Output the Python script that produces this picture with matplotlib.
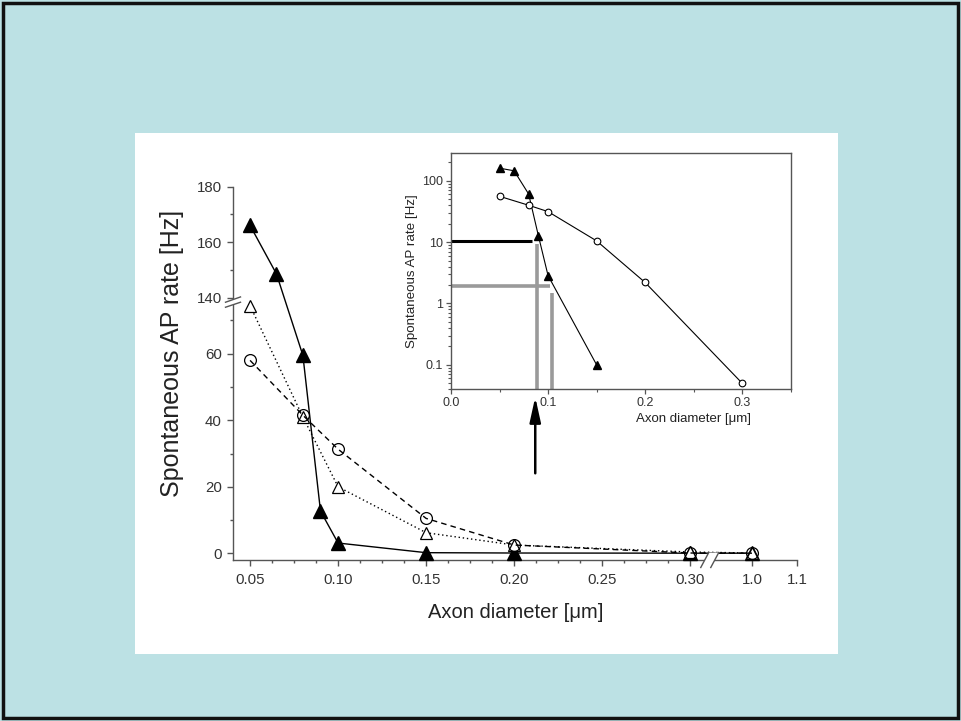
import numpy as np
import matplotlib
matplotlib.use("Agg")
import matplotlib.pyplot as plt
from matplotlib.patches import Rectangle, Polygon
from matplotlib.lines import Line2D

plt.rcParams['font.family'] = ['Liberation Sans', 'DejaVu Sans']

# main panel data
x_filled = [0.05, 0.065, 0.08, 0.09, 0.10, 0.15, 0.20, 0.30, 1.0]
y_filled = [166, 148.5, 59.5, 12.7, 3.1, 0.2, 0.1, 0.05, 0.05]
x_open_tri = [0.05, 0.08, 0.10, 0.15, 0.20, 0.30, 1.0]
y_open_tri = [137, 41, 20, 6.2, 2.5, 0.4, 0.1]
x_circ = [0.05, 0.08, 0.10, 0.15, 0.20, 0.30, 1.0]
y_circ = [58, 41.5, 31.3, 10.5, 2.5, 0.1, 0.05]

x_ticks = [0.05, 0.10, 0.15, 0.20, 0.25, 0.30, 1.0, 1.1]
x_tick_labels = ['0.05', '0.10', '0.15', '0.20', '0.25', '0.30', '1.0', '1.1']
y_ticks = [0, 20, 40, 60, 140, 160, 180]
y_minor = [10, 30, 50, 70, 150, 170]

# inset data (log scale)
ix_tri = [0.05, 0.065, 0.08, 0.09, 0.10, 0.15]
iy_tri = [161, 146, 61, 12.8, 2.85, 0.1]
ix_circ = [0.05, 0.08, 0.10, 0.15, 0.20, 0.30]
iy_circ = [56, 40, 31.5, 10.5, 2.2, 0.05]

# guide lines in the inset
black_h = ([0.0, 0.083], [10.5, 10.5])
gray_v1 = ([0.0885, 0.0885], [9.4, 0.01])
gray_h = ([0.0, 0.102], [1.9, 1.9])
gray_v2 = ([0.1045, 0.1045], [1.5, 0.01])
arrow_x = 0.0868

W, H = 961, 721
fig = plt.figure(figsize=(W / 100, H / 100), dpi=100)
fig.patch.set_facecolor('#bce1e4')


def fr(x0, y0, x1, y1):
    # pixel box (top-left origin) -> figure fraction rect
    return [x0 / W, 1 - y1 / H, (x1 - x0) / W, (y1 - y0) / H]


fig.add_artist(Rectangle((3 / W, 3 / H), (W - 6) / W, (H - 6) / H,
                         transform=fig.transFigure, facecolor='none',
                         edgecolor='#111111', lw=2.5, zorder=-2))
fig.add_artist(Rectangle((135 / W, 1 - 653.7 / H), 702.7 / W, 520.7 / H,
                         transform=fig.transFigure, facecolor='white',
                         edgecolor='none', zorder=-1))


# broken axis scales
def xf(x):
    x = np.asarray(x, dtype=float)
    return np.where(x < 0.6, np.minimum(x, 0.3114), 0.3351 + (x - 1.0) * 0.2557)


def xi(u):
    u = np.asarray(u, dtype=float)
    return np.where(u < 0.3114, u, 1.0 + (u - 0.3351) / 0.2557)


def yf(y):
    y = np.asarray(y, dtype=float)
    return np.where(y < 100, np.minimum(y, 74.4), 74.4 + (y - 137) * 0.8326)


def yi(v):
    v = np.asarray(v, dtype=float)
    return np.where(v < 74.4, v, 137 + (v - 74.4) / 0.8326)


spine_c = '#555555'
text_c = '#333333'

ax = fig.add_axes(fr(233, 186.7, 797, 560))
ax.patch.set_alpha(0)
ax.set_xscale('function', functions=(xf, xi))
ax.set_yscale('function', functions=(yf, yi))
ax.set_xlim(0.0403, 1.1)
ax.set_ylim(-2.0, 180)
for s in ['top', 'right']:
    ax.spines[s].set_visible(False)
for s in ['left', 'bottom']:
    ax.spines[s].set_color(spine_c)
    ax.spines[s].set_linewidth(1.0)

ax.set_xticks(x_ticks)
ax.set_xticklabels(x_tick_labels)
ax.set_xticks(list(np.arange(0.0625, 0.29, 0.0125)), minor=True)
ax.set_yticks(y_ticks)
ax.set_yticklabels([str(v) for v in y_ticks])
ax.set_yticks(y_minor, minor=True)
ax.tick_params(which='both', direction='out', colors=spine_c, labelcolor=text_c,
               labelsize=10.8)
ax.tick_params(which='major', length=4.5, width=1)
ax.tick_params(which='minor', length=2.5, width=1)
ax.tick_params(axis='x', pad=5)

ax.plot(x_filled, y_filled, '-', color='black', lw=1.0, marker='^', ms=10,
        mfc='black', mec='black', zorder=3, clip_on=False)
ax.plot(x_open_tri, y_open_tri, linestyle=(0, (1, 2)), color='black', lw=1.0,
        marker='^', ms=8, mfc='white', mec='black', mew=0.9, zorder=4, clip_on=False)
ax.plot(x_circ, y_circ, linestyle=(0, (4, 3)), color='black', lw=1.0,
        marker='o', ms=8.5, mfc='none', mec='black', mew=0.9, zorder=5, clip_on=False)

fig.canvas.draw()
to_fig = fig.transFigure.inverted()


def break_mark(px, py, l1, l2):
    pts = [(px + a, py + b) for a, b in (l1[0], l1[1], l2[1], l2[0])]
    pts = [to_fig.transform(p) for p in pts]
    fig.add_artist(Polygon(pts, closed=True, transform=fig.transFigure,
                           facecolor='white', edgecolor='none', zorder=10))
    for a, b in (l1, l2):
        p0 = to_fig.transform((px + a[0], py + a[1]))
        p1 = to_fig.transform((px + b[0], py + b[1]))
        fig.add_artist(Line2D([p0[0], p1[0]], [p0[1], p1[1]], transform=fig.transFigure,
                              color=spine_c, lw=1.0, zorder=11))


# x axis break
bx, by = ax.transData.transform((0.3125, -2.0))
break_mark(bx, by, ((-9.5, -7.5), (-1.5, 7.5)), ((0.5, -7.5), (8.5, 7.5)))
# y axis break
cx, cy = ax.transData.transform((0.0403, 138.4))
break_mark(cx, cy, ((-7.5, -0.3), (7.5, 5.0)), ((-7.5, -5.3), (7.5, -0.3)))

fig.text(172 / W, 1 - 353 / H, 'Spontaneous AP rate [Hz]', rotation=90,
         ha='center', va='center', fontsize=18, color='#222222')
fig.text(516 / W, 1 - 612 / H, 'Axon diameter [\u03bcm]', ha='center', va='center',
         fontsize=14.5, color='#222222')

# inset
ins = fig.add_axes(fr(451, 152.7, 790.7, 389.3))
ins.set_yscale('log')
ins.set_xlim(0, 0.35)
ins.set_ylim(0.0398, 288)
for s in ins.spines.values():
    s.set_color(spine_c)
    s.set_linewidth(1.0)
ins.set_xticks([0.0, 0.1, 0.2, 0.3])
ins.set_xticklabels(['0.0', '0.1', '0.2', '0.3'])
ins.set_xticks([0.05, 0.15, 0.25, 0.35], minor=True)
ins.set_yticks([0.1, 1, 10, 100])
ins.set_yticklabels(['0.1', '1', '10', '100'])
ins.tick_params(which='both', direction='out', colors=spine_c, labelcolor=text_c,
                labelsize=9, top=False, right=False)
ins.tick_params(which='major', length=3.5, width=0.9, pad=2)
ins.tick_params(which='minor', length=2, width=0.8)

ins.plot(*black_h, color='black', lw=2.2, solid_capstyle='butt', zorder=2)
ins.plot(*gray_v1, color='#9a9a9a', lw=2.6, solid_capstyle='butt', zorder=2)
ins.plot(*gray_h, color='#9a9a9a', lw=2.6, solid_capstyle='butt', zorder=2)
ins.plot(*gray_v2, color='#9a9a9a', lw=2.6, solid_capstyle='butt', zorder=2)

ins.plot(ix_tri, iy_tri, '-', color='black', lw=0.8, marker='^', ms=5.5,
         mfc='black', mec='black', zorder=3)
ins.plot(ix_circ, iy_circ, '-', color='black', lw=0.8, marker='o', ms=4.8,
         mfc='white', mec='black', mew=0.8, zorder=3)

ins.set_ylabel('Spontaneous AP rate [Hz]', fontsize=9.6, color='#222222')
ins.yaxis.set_label_coords(-0.097, 0.5)
ins.set_xlabel('Axon diameter [\u03bcm]', fontsize=9.5, color='#222222', ha='center')
ins.xaxis.set_label_coords(0.715, -0.1)

ins.annotate('', xy=(arrow_x, -0.0325), xycoords=('data', 'axes fraction'),
             xytext=(arrow_x, -0.355), textcoords=('data', 'axes fraction'),
             arrowprops=dict(arrowstyle='-|>,head_length=1.5,head_width=0.33',
                             mutation_scale=10, color='black', lw=1.8,
                             shrinkA=0, shrinkB=0),
             annotation_clip=False)

fig.savefig('out.png', dpi=100, facecolor=fig.get_facecolor())
